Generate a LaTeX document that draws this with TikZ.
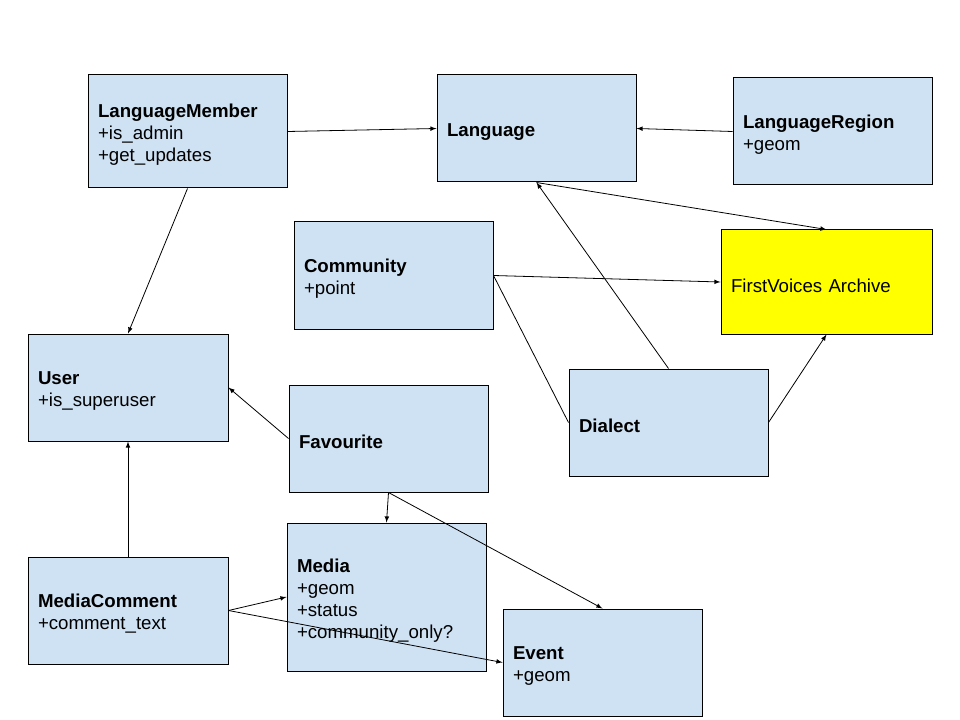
\documentclass[tikz,border=0pt]{standalone}
\usepackage{fontspec}
\setmainfont{Liberation Sans}
\usetikzlibrary{positioning,calc,shapes,arrows}
\definecolor{myblue}{RGB}{207, 226, 243}
\definecolor{myyellow}{RGB}{255, 255, 0}
\tikzstyle{entity}=[draw,fill=myblue,minimum width=149.25pt,minimum height=80.25pt,text width=134.25pt,inner xsep=7.5pt,align=left,line width=0.75pt,font=\fontsize{14pt}{16.5pt}\selectfont,execute at begin node={\rule{0pt}{15.5pt}}]
\tikzstyle{archive}=[entity,fill=myyellow,minimum width=158.25pt,minimum height=78pt,text width=143.25pt]
\tikzstyle{arr}=[-latex,line width=0.6pt]

\begin{document}
\begin{tikzpicture}[x=0.75pt,y=-0.75pt]
      \useasboundingbox (0,0) rectangle (960,720);
      \node (LM) [entity,minimum height=84.75pt] at (187.5,131.5) {\textbf{LanguageMember}\\+is\_admin\\+get\_updates};
      \node (L) [entity] at (536.5,128.5) {\textbf{Language}};
      \node (LR) [entity] at (832.5,131.5) {\textbf{LanguageRegion}\\+geom};
      \node (C) [entity] at (393.5,275.5) {\textbf{Community}\\+point};
      \node (FV) [archive] at (826.5,282) {FirstVoices Archive};
      \node (U) [entity,minimum width=150pt,text width=135pt] at (128,387.5) {\textbf{User}\\+is\_superuser};
      \node (F) [entity] at (388.5,438.5) {\textbf{Favourite}};
      \node (D) [entity] at (668.5,422.5) {\textbf{Dialect}};
      \node (MC) [entity,minimum width=150pt,text width=135pt] at (128,610.5) {\textbf{MediaComment}\\+comment\_text};
      \node (M) [entity,minimum height=111pt] at (386.5,597) {\textbf{Media}\\+geom\\+status\\+community\_only?};
      \node (E) [entity] at (602.5,662.5) {\textbf{Event}\\+geom};

      \draw [arr] (LM.east) -- (L.west);
      \draw [arr] (LR.west) -- (L.east);
      \draw [arr] (L.south) -- (FV.north);
      \draw [arr] (LM.south) -- (U.north);
      \draw [arr] (C.east) -- (FV.west);
      \draw [line width=0.6pt] (C.east) -- (D.west);
      \draw [arr] (D.north) -- (L.south);
      \draw [arr] (D.east) -- (FV.south);
      \draw [arr] (F.west) -- (U.east);
      \draw [arr] (F.south) -- (M.north);
      \draw [arr] (F.south) -- (E.north);
      \draw [arr] (MC.north) -- (U.south);
      \draw [arr] (MC.east) -- (M.west);
      \draw [arr] (MC.east) -- (E.west);
    \end{tikzpicture}
\end{document}
